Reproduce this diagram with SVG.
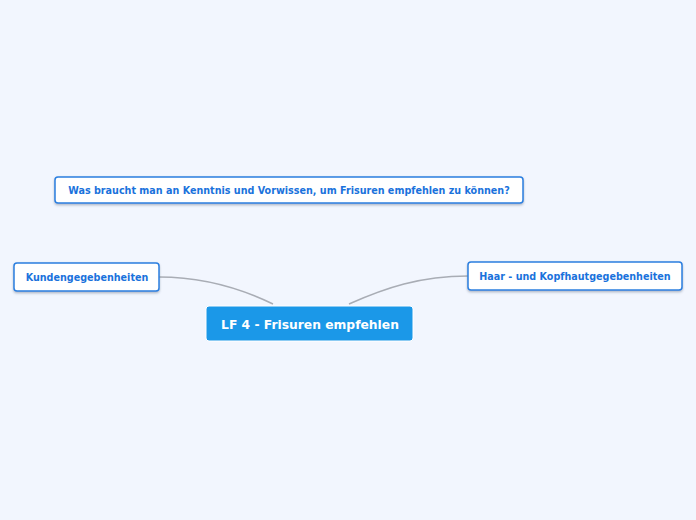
<svg xmlns="http://www.w3.org/2000/svg" width="696" height="520" viewBox="0 0 696 520">
<defs>
<filter id="sh" x="-10%" y="-30%" width="120%" height="170%">
<feDropShadow dx="0" dy="1.5" stdDeviation="1" flood-color="#5a6a80" flood-opacity="0.45"/>
</filter>
</defs>
<style>
.node rect{fill:#ffffff;stroke:#2a7fe0;stroke-width:1.5;filter:url(#sh)}
.node text{font-family:"DejaVu Sans",Verdana,sans-serif;font-weight:bold;font-size:9.6px;fill:#1a72dc;text-anchor:middle}
.root rect{fill:#1b98e8;stroke:#ffffff;stroke-width:1}
.root text{font-family:"DejaVu Sans",Verdana,sans-serif;font-weight:bold;font-size:12.3px;fill:#ffffff;text-anchor:middle}
.conn path{fill:none;stroke:#a9adb5;stroke-width:1.5}
</style>
<rect width="696" height="520" fill="#f2f6fe"/>
<g id="connectors" class="conn">
<path d="M159,277 C200,277 240,288 273,304"/>
<path d="M468,276 C420,276 385,288 349,304"/>
</g>
<g id="root" class="root">
<rect x="206" y="306" width="207" height="35" rx="3"/>
<text x="310" y="329">LF 4 - Frisuren empfehlen</text>
</g>
<g id="question" class="node">
<rect x="55" y="177" width="468" height="26" rx="3"/>
<text x="289" y="193.5">Was braucht man an Kenntnis und Vorwissen, um Frisuren empfehlen zu können?</text>
</g>
<g id="kunden" class="node">
<rect x="14" y="263" width="145" height="28" rx="3"/>
<text x="87" y="280.5">Kundengegebenheiten</text>
</g>
<g id="haar" class="node">
<rect x="468" y="262" width="214" height="28" rx="3"/>
<text x="575" y="279.5">Haar - und Kopfhautgegebenheiten</text>
</g>
</svg>
